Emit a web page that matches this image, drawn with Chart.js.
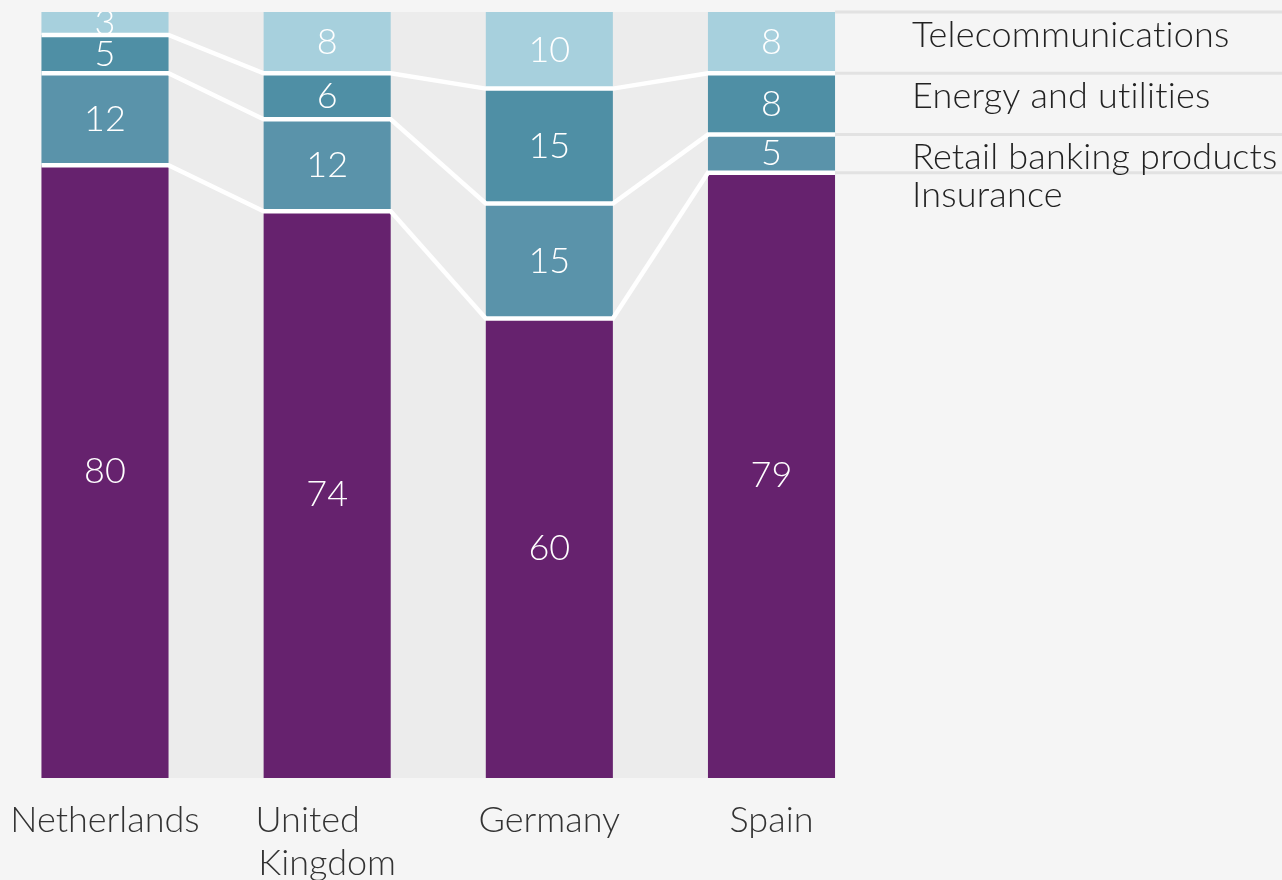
<!DOCTYPE html>
<html lang="en">
<head>
    <meta charset="UTF-8">
    <title>Sector shares by country</title>
    <script src="https://cdn.jsdelivr.net/npm/chart.js"></script>
    <style>
        body {
            margin: 0;
            padding: 0;
            background: #f5f5f5;
        }
        .wrap {
            width: 1282px;
            height: 880px;
        }
    </style>
</head>
<body>
    <div class="wrap">
        <canvas id="myChart" width="1282" height="880"></canvas>
    </div>
    <script>
        // data
        const countries = ['Netherlands', ['United    ', 'Kingdom'], 'Germany', 'Spain'];
        const insurance = [80, 74, 60, 79];
        const retailBanking = [12, 12, 15, 5];
        const energyUtilities = [5, 6, 15, 8];
        const telecoms = [3, 8, 10, 8];
        const seriesNames = ['Insurance', 'Retail banking products', 'Energy and utilities', 'Telecommunications'];

        const FONT = 'Lato, Roboto, "Liberation Sans", sans-serif';

        // grey band behind the bars, white links between segment edges, value labels, side legend
        const decor = {
            id: 'decor',
            beforeDatasetsDraw(chart) {
                const ctx = chart.ctx;
                const bars = chart.getDatasetMeta(0).data;
                const first = bars[0], last = bars[bars.length - 1];
                const left = first.x - first.width / 2;
                const right = last.x + last.width / 2;
                ctx.save();
                ctx.fillStyle = '#ececec';
                ctx.fillRect(left, chart.chartArea.top, right - left, chart.chartArea.bottom - chart.chartArea.top);
                ctx.restore();
            },
            afterDatasetsDraw(chart) {
                const ctx = chart.ctx;
                const n = chart.data.datasets.length;
                const bars0 = chart.getDatasetMeta(0).data;
                const left = bars0[0].x - bars0[0].width / 2;
                const lastBar = bars0[bars0.length - 1];
                const right = lastBar.x + lastBar.width / 2;
                const top = chart.chartArea.top, bottom = chart.chartArea.bottom;

                ctx.save();
                // white boundary lines
                ctx.strokeStyle = '#ffffff';
                ctx.lineWidth = 4.5;
                for (let d = 0; d < n - 1; d++) {
                    const els = chart.getDatasetMeta(d).data;
                    ctx.beginPath();
                    els.forEach((el, i) => {
                        const l = el.x - el.width / 2, r = el.x + el.width / 2;
                        if (i === 0) ctx.moveTo(l, el.y); else ctx.lineTo(l, el.y);
                        ctx.lineTo(r, el.y);
                    });
                    ctx.stroke();
                }

                // grey legend lines out of the last bar
                ctx.strokeStyle = '#e2e2e2';
                ctx.lineWidth = 3;
                const legendTops = [];
                for (let d = 0; d < n; d++) {
                    const els = chart.getDatasetMeta(d).data;
                    const el = els[els.length - 1];
                    legendTops.push(el.y);
                    ctx.beginPath();
                    ctx.moveTo(right, el.y);
                    ctx.lineTo(chart.width, el.y);
                    ctx.stroke();
                }

                // legend text (small letter spacing keeps Lato from joining "ti")
                ctx.fillStyle = '#222222';
                ctx.font = '300 36px ' + FONT;
                ctx.letterSpacing = '0.2px';
                ctx.textAlign = 'left';
                ctx.textBaseline = 'middle';
                for (let d = 0; d < n; d++) {
                    ctx.fillText(chart.data.datasets[d].label, 912, legendTops[d] + 23);
                }
                ctx.letterSpacing = '0px';

                // values inside the segments
                ctx.beginPath();
                ctx.rect(left, top, right - left, bottom - top);
                ctx.clip();
                ctx.fillStyle = '#ffffff';
                ctx.textAlign = 'center';
                for (let d = 0; d < n; d++) {
                    const meta = chart.getDatasetMeta(d);
                    const vals = chart.data.datasets[d].data;
                    meta.data.forEach((el, i) => {
                        ctx.fillText(String(vals[i]), el.x, (el.y + el.base) / 2);
                    });
                }
                ctx.restore();
            }
        };

        const ctx = document.getElementById('myChart').getContext('2d');
        new Chart(ctx, {
            type: 'bar',
            data: {
                labels: countries,
                datasets: [
                    { label: seriesNames[0], data: insurance, backgroundColor: '#66226e' },
                    { label: seriesNames[1], data: retailBanking, backgroundColor: '#5a93aa' },
                    { label: seriesNames[2], data: energyUtilities, backgroundColor: '#4f8fa5' },
                    { label: seriesNames[3], data: telecoms, backgroundColor: '#a7d0dd' }
                ]
            },
            options: {
                responsive: false,
                animation: false,
                layout: { padding: { left: 105, right: 510.5, top: 12, bottom: 0 } },
                datasets: {
                    bar: { clip: false, borderWidth: 0, categoryPercentage: 1, barPercentage: 0.572 }
                },
                plugins: {
                    legend: { display: false },
                    tooltip: { enabled: false }
                },
                scales: {
                    x: {
                        stacked: true,
                        offset: false,
                        grid: { display: false, drawTicks: false },
                        border: { display: false },
                        ticks: {
                            color: '#333333',
                            padding: 21,
                            maxRotation: 0,
                            autoSkip: false,
                            font: { family: FONT, size: 36, weight: '300', lineHeight: 1.2 }
                        },
                        afterFit(scale) {
                            scale.height = 102;
                            scale.paddingLeft = 0;
                            scale.paddingRight = 0;
                        }
                    },
                    y: {
                        stacked: true,
                        display: false,
                        min: 0,
                        max: 100
                    }
                }
            },
            plugins: [decor]
        });
    </script>
</body>
</html>
